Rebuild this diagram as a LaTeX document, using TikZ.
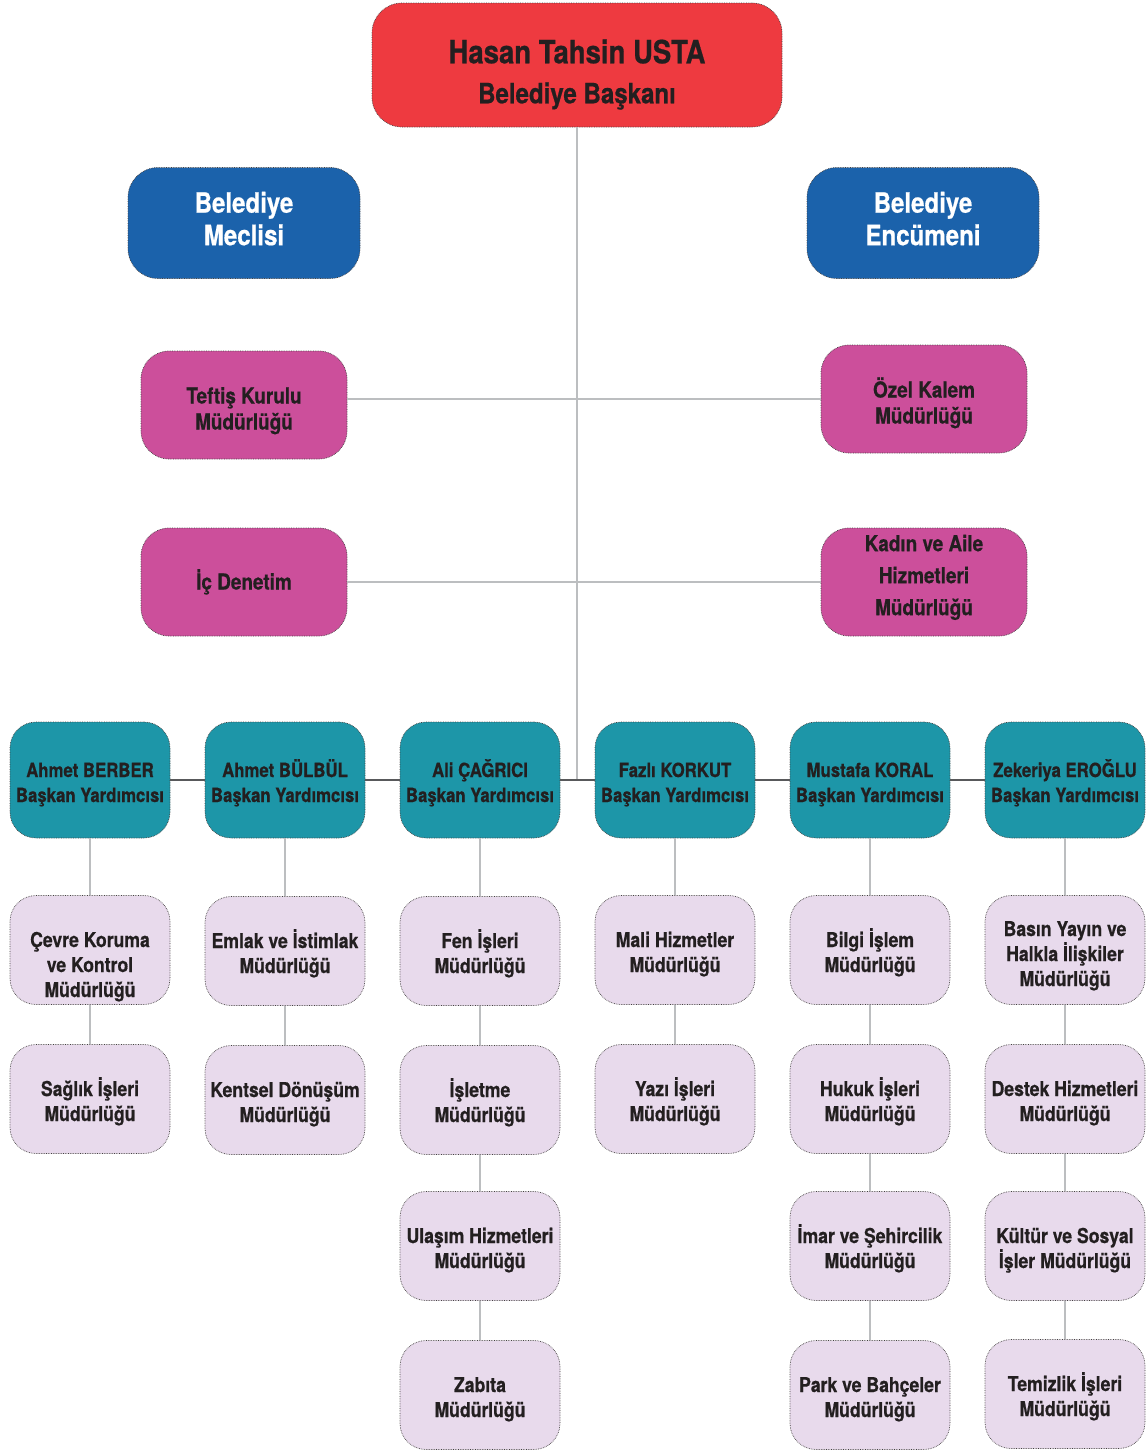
\documentclass[tikz,border=0pt]{standalone}
\usepackage{fontspec}
\setmainfont{TeX Gyre Heros}[FakeStretch=0.86,FakeBold=0.6]
\usepackage{xcolor}
\definecolor{kirmizi}{HTML}{EE3A40}
\definecolor{mavi}{HTML}{1B62AB}
\definecolor{pembe}{HTML}{CC4F9B}
\definecolor{camgobegi}{HTML}{1D96A8}
\definecolor{lila}{HTML}{E8DAEC}
\definecolor{yazi}{HTML}{231F20}
\definecolor{acikgri}{HTML}{BCBEC0}
\definecolor{koyugri}{HTML}{58595B}

\begin{document}
\begin{tikzpicture}[x=1pt,y=-1pt,
  dayanak/.style 2 args={execute at begin node={\rule{0pt}{#1}},execute at end node={\rule[-#2]{0pt}{#2}}},
  kutu/.style={draw=yazi!85,densely dotted,line width=0.7pt,align=center,inner sep=0pt,text=yazi,font=\bfseries},
  baskan/.style={kutu,fill=kirmizi,minimum width=410pt,minimum height=124pt,rounded corners=30pt,
    font=\bfseries\fontsize{32}{40}\selectfont,dayanak={83pt}{6pt}},
  kurul/.style={kutu,fill=mavi,text=white,minimum width=232pt,minimum height=111pt,rounded corners=30pt,
    font=\bfseries\fontsize{28}{32.5}\selectfont,dayanak={0pt}{9pt}},
  birim/.style={kutu,fill=pembe,minimum width=206pt,minimum height=108pt,rounded corners=28pt,
    font=\bfseries\fontsize{22}{26}\selectfont,dayanak={54pt}{5pt}},
  yrd/.style={kutu,fill=camgobegi,minimum width=160pt,minimum height=116pt,rounded corners=26pt,
    font=\bfseries\fontsize{19.5}{25}\selectfont,dayanak={49pt}{5pt}},
  mud/.style={kutu,fill=lila,minimum width=160pt,minimum height=109pt,rounded corners=26pt,
    font=\bfseries\fontsize{20.5}{25}\selectfont,dayanak={49pt}{5pt}},
  acik/.style={acikgri,line width=2pt},
  koyu/.style={koyugri,line width=2.5pt}]
  \useasboundingbox (0,0) rectangle (1147,1451);

  \node[baskan] (baskan) at (577,65)
    {Hasan Tahsin USTA\\ \fontsize{28}{40}\selectfont Belediye Başkanı};

  \node[kurul] (meclis)   at (244,223) {Belediye\\Meclisi};
  \node[kurul] (encumen)  at (923,223) {Belediye\\Encümeni};

  \node[birim] (teftis)   at (244,405) {Teftiş Kurulu\\Müdürlüğü};
  \node[birim] (ozel)     at (924,399) {Özel Kalem\\Müdürlüğü};
  \node[birim,dayanak={0pt}{39pt}] (icdenetim) at (244,582) {İç Denetim};
  \node[birim,font=\bfseries\fontsize{22}{32}\selectfont,dayanak={0pt}{14pt}] (kadin) at (924,582)
    {Kadın ve Aile\\Hizmetleri\\Müdürlüğü};

  \node[yrd] (yrdA) at (90,780)   {Ahmet BERBER\\Başkan Yardımcısı};
  \node[yrd] (yrdB) at (285,780)  {Ahmet BÜLBÜL\\Başkan Yardımcısı};
  \node[yrd] (yrdC) at (480,780)  {Ali ÇAĞRICI\\Başkan Yardımcısı};
  \node[yrd] (yrdD) at (675,780)  {Fazlı KORKUT\\Başkan Yardımcısı};
  \node[yrd] (yrdE) at (870,780)  {Mustafa KORAL\\Başkan Yardımcısı};
  \node[yrd] (yrdF) at (1065,780) {Zekeriya EROĞLU\\Başkan Yardımcısı};

  \node[mud,dayanak={99pt}{5pt}] (cevre) at (90,950) {Çevre Koruma\\ve Kontrol\\Müdürlüğü};
  \node[mud] (saglik)   at (90,1099)  {Sağlık İşleri\\Müdürlüğü};

  \node[mud] (emlak)    at (285,951)  {Emlak ve İstimlak\\Müdürlüğü};
  \node[mud] (kentsel)  at (285,1100) {Kentsel Dönüşüm\\Müdürlüğü};

  \node[mud] (fen)      at (480,951)  {Fen İşleri\\Müdürlüğü};
  \node[mud] (isletme)  at (480,1100) {İşletme\\Müdürlüğü};
  \node[mud] (ulasim)   at (480,1246) {Ulaşım Hizmetleri\\Müdürlüğü};
  \node[mud] (zabita)   at (480,1395) {Zabıta\\Müdürlüğü};

  \node[mud] (mali)     at (675,950)  {Mali Hizmetler\\Müdürlüğü};
  \node[mud] (yazi)     at (675,1099) {Yazı İşleri\\Müdürlüğü};

  \node[mud] (bilgi)    at (870,950)  {Bilgi İşlem\\Müdürlüğü};
  \node[mud] (hukuk)    at (870,1099) {Hukuk İşleri\\Müdürlüğü};
  \node[mud] (imar)     at (870,1246) {İmar ve Şehircilik\\Müdürlüğü};
  \node[mud] (park)     at (870,1395) {Park ve Bahçeler\\Müdürlüğü};

  \node[mud,dayanak={77pt}{5pt}] (basin) at (1065,950) {Basın Yayın ve\\Halkla İlişkiler\\Müdürlüğü};
  \node[mud] (destek)   at (1065,1099) {Destek Hizmetleri\\Müdürlüğü};
  \node[mud] (kultur)   at (1065,1246) {Kültür ve Sosyal\\İşler Müdürlüğü};
  \node[mud] (temizlik) at (1065,1394) {Temizlik İşleri\\Müdürlüğü};

  \coordinate (kavsak) at (baskan.south |- yrdC.east);
  \draw[acik] (baskan.south) -- (kavsak);
  \draw[acik] (teftis.east |- ozel.west) -- (ozel.west);
  \draw[acik] (icdenetim) -- (kadin);
  \draw[koyu] (yrdA) -- (yrdB) -- (yrdC) -- (yrdD) -- (yrdE) -- (yrdF);

  \foreach \a/\b in {yrdA/cevre,cevre/saglik,yrdB/emlak,emlak/kentsel,
                     yrdC/fen,fen/isletme,isletme/ulasim,ulasim/zabita,
                     yrdD/mali,mali/yazi,
                     yrdE/bilgi,bilgi/hukuk,hukuk/imar,imar/park,
                     yrdF/basin,basin/destek,destek/kultur,kultur/temizlik}
    \draw[acik] (\a) -- (\b);
\end{tikzpicture}
\end{document}
